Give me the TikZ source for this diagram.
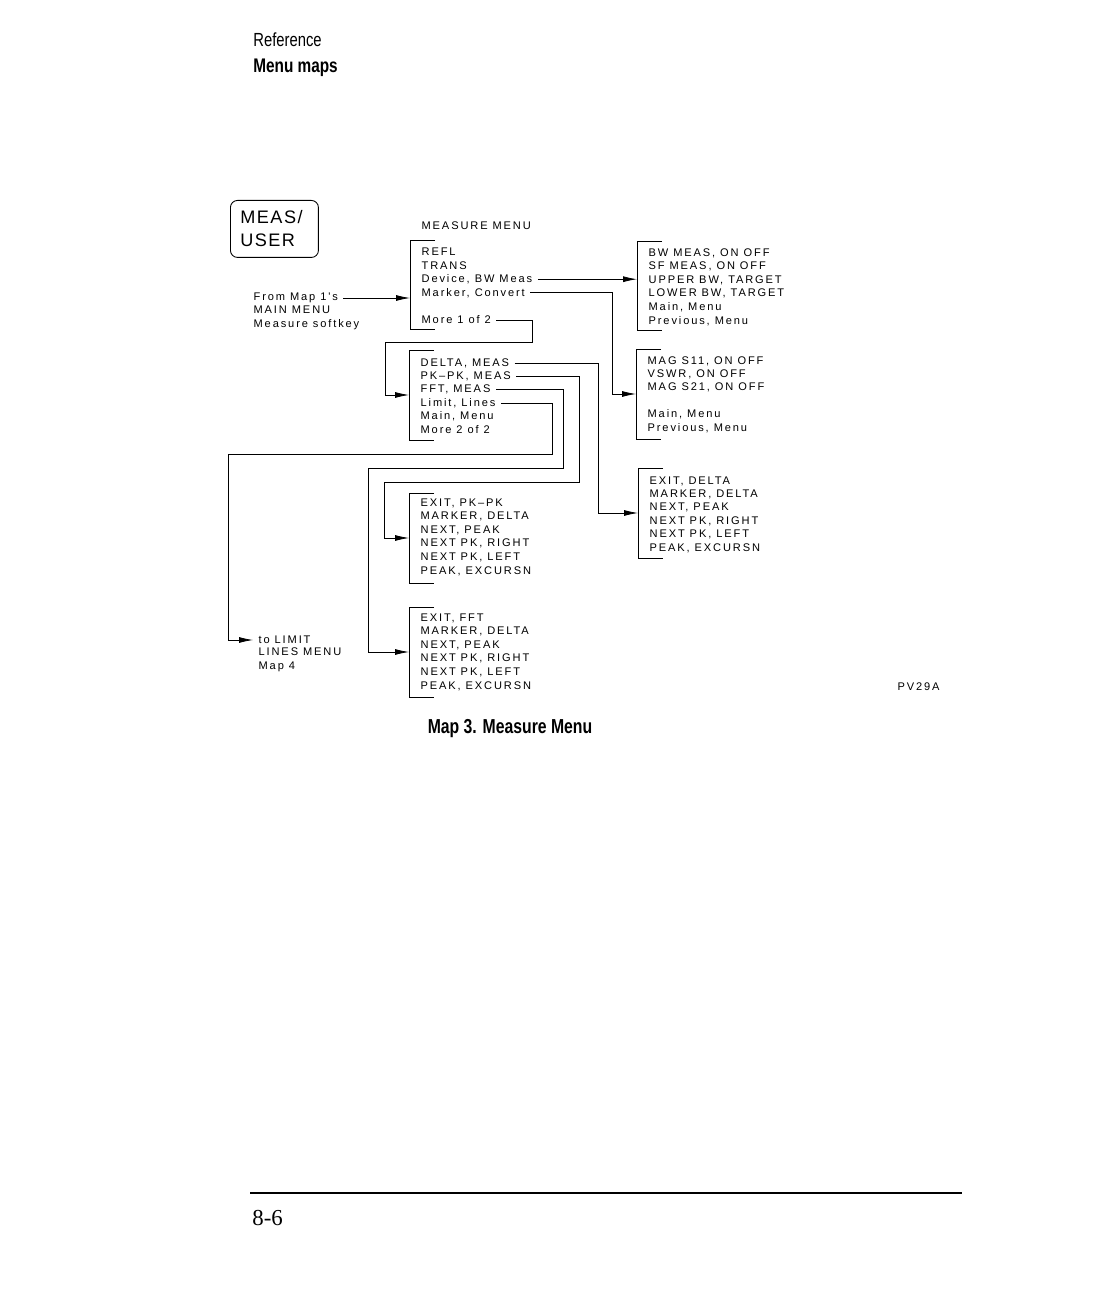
\documentclass[tikz,border=0pt]{standalone}
\usepackage{fontspec}
\setmainfont{Liberation Serif}
\newfontfamily\plotfont[LetterSpace=17]{Liberation Sans}
\newfontfamily\keyfont[LetterSpace=8]{Liberation Sans}
\newfontfamily\headfont[FakeStretch=0.78]{Liberation Sans}
\usetikzlibrary{arrows.meta,positioning,calc}
\tikzset{
  item/.style={
    anchor=west,
    inner xsep=3pt,
    inner ysep=1pt,
    font=\plotfont\fontsize{6.3}{7.6}\selectfont
  },
  note/.style={item, align=left},
  menubox/.style={anchor=north west, inner sep=0pt, outer sep=0pt, minimum width=5mm, minimum height=18mm},
  bracket/.style={line width=0.55pt},
  keycap/.style={
    draw,
    rounded corners=4pt,
    line width=0.5pt,
    anchor=north west,
    align=left,
    inner xsep=0.2cm,
    text width=1.36cm,
    minimum height=1.14cm,
    font=\keyfont\fontsize{10.3}{13}\selectfont
  },
  title/.style={anchor=west, inner sep=0pt, font=\headfont\fontsize{10.8}{12}\selectfont},
  flow/.style={-{Latex[length=2.8mm,width=1.2mm]}, line width=0.45pt}
}

\begin{document}
\begin{tikzpicture}[x=0.02cm, y=-0.02cm]
\useasboundingbox (0,0) rectangle (1116,1300);

\node[title] (secname) at (253,40) {Reference};
\node[title, font=\headfont\bfseries\fontsize{11.2}{12}\selectfont] (secsub) at (253,68) {Menu maps};

\node[keycap] (measkey) at (230,200) {MEAS/\\USER};
\node[item] (menutitle) at (416,226) {MEASURE MENU};

\node[menubox] (menuA) at (410,240) {};
\node[menubox] (menuB) at (409,350) {};
\node[menubox] (menuC) at (637,241) {};
\node[menubox] (menuD) at (636,349) {};
\node[menubox] (menuE) at (638,468) {};
\node[menubox] (menuF) at (409,493) {};
\node[menubox] (menuG) at (409,607) {};

\foreach \m in {menuA,menuB,menuC,menuD,menuE,menuF,menuG}
  \draw[bracket] (\m.north east) -- (\m.north west) -- (\m.south west) -- (\m.south east);

\foreach \t [count=\i] in {REFL,TRANS,{Device, BW Meas},{Marker, Convert},{},More 1 of 2}
  \node[item] (ma\i) at ($(menuA.north west)+(6,{12+13.6*(\i-1)})$) {\t};
\foreach \t [count=\i] in {{DELTA, MEAS},{PK–PK, MEAS},{FFT, MEAS},{Limit, Lines},{Main, Menu},More 2 of 2}
  \node[item] (mb\i) at ($(menuB.north west)+(6,{13+13.3*(\i-1)})$) {\t};
\foreach \t [count=\i] in {{BW MEAS, ON OFF},{SF MEAS, ON OFF},{UPPER BW, TARGET},{LOWER BW, TARGET},{Main, Menu},{Previous, Menu}}
  \node[item] (mc\i) at ($(menuC.north west)+(6,{12+13.6*(\i-1)})$) {\t};
\foreach \t [count=\i] in {{MAG S11, ON OFF},{VSWR, ON OFF},{MAG S21, ON OFF},{},{Main, Menu},{Previous, Menu}}
  \node[item] (md\i) at ($(menuD.north west)+(6,{12+13.4*(\i-1)})$) {\t};
\foreach \t [count=\i] in {{EXIT, DELTA},{MARKER, DELTA},{NEXT, PEAK},{NEXT PK, RIGHT},{NEXT PK, LEFT},{PEAK, EXCURSN}}
  \node[item] (me\i) at ($(menuE.north west)+(6,{13+13.4*(\i-1)})$) {\t};
\foreach \t [count=\i] in {{EXIT, PK–PK},{MARKER, DELTA},{NEXT, PEAK},{NEXT PK, RIGHT},{NEXT PK, LEFT},{PEAK, EXCURSN}}
  \node[item] (mf\i) at ($(menuF.north west)+(6,{10+13.6*(\i-1)})$) {\t};
\foreach \t [count=\i] in {{EXIT, FFT},{MARKER, DELTA},{NEXT, PEAK},{NEXT PK, RIGHT},{NEXT PK, LEFT},{PEAK, EXCURSN}}
  \node[item] (mg\i) at ($(menuG.north west)+(6,{11+13.6*(\i-1)})$) {\t};

\node[item] (fromnote) at (248,298) {From Map 1's};
\node[note, anchor=north west] (fromnote2) at (248,304) {MAIN MENU\\Measure softkey};
\node[item] (tolimit) at (253,640) {to LIMIT};
\node[note, anchor=north west] (tolimit2) at (253,646) {LINES MENU\\Map 4};
\node[item] (figcode) at (892,687) {PV29A};

\draw[flow] (fromnote.east) -- (fromnote.east -| menuA.west);
\draw[flow] (ma3.east) -- (ma3.east -| menuC.west);
\draw[flow] (ma4.east) -| ($(menuD.west)+(-24,0)$) -- (menuD.west);
\draw[flow] (ma6.east) -| (532,342) -| ($(menuB.west)+(-24,0)$) -- (menuB.west);
\draw[flow] (mb1.east) -| ($(menuE.west)+(-40,0)$) -- (menuE.west);
\draw[flow] (mb2.east) -| (579,482) -| ($(menuF.west)+(-25,0)$) -- (menuF.west);
\draw[flow] (mb3.east) -| (563,468) -| ($(menuG.west)+(-41,0)$) -- (menuG.west);
\draw[flow] (mb4.east) -| (552,454) -| ($(tolimit.west)+(-25,0)$) -- (tolimit.west);

\node[title, anchor=center, font=\headfont\bfseries\fontsize{11.5}{13}\selectfont] (caption) at (510,729) {Map 3. Measure Menu};

\draw[line width=0.9pt] (250,1193) -- (962,1193);
\node[anchor=west, inner sep=0pt, font=\fontsize{13}{15}\selectfont] (pagenum) at (252,1218) {8-6};
\end{tikzpicture}
\end{document}
